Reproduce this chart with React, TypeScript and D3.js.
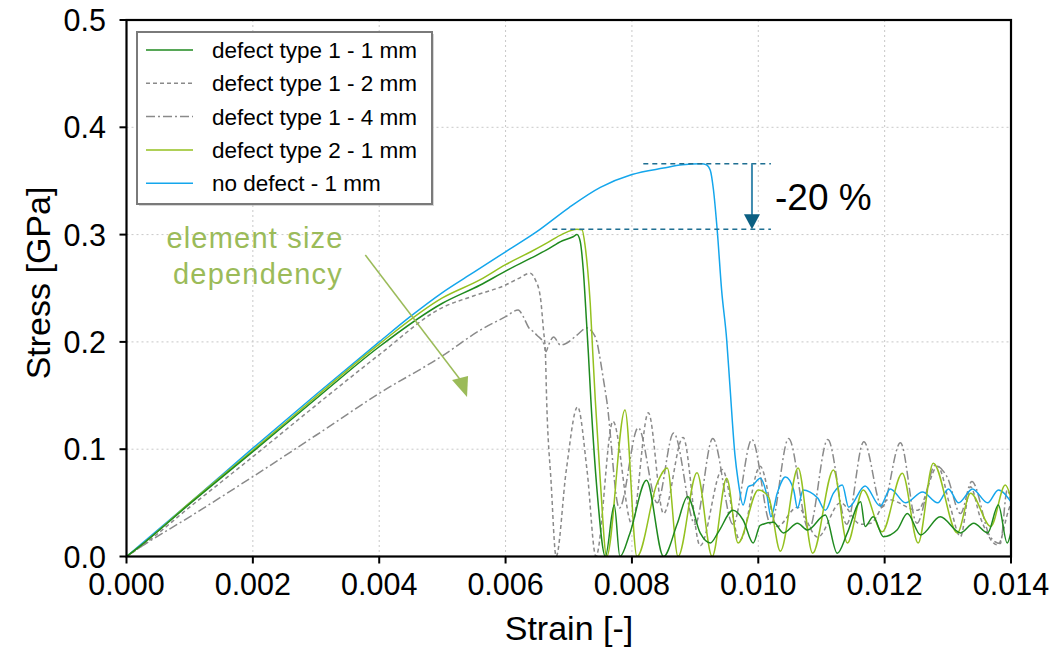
import * as d3 from 'd3';

type Pt = [number, number];

// axis ticks
const xTicks = [0, 0.002, 0.004, 0.006, 0.008, 0.01, 0.012, 0.014];
const yTicks = [0, 0.1, 0.2, 0.3, 0.4, 0.5];

// strain [-], stress [GPa]
const type1_1mm: Pt[] = [
  [0, 0], [0.0002, 0.009], [0.001, 0.049], [0.002, 0.0977], [0.003, 0.147], [0.004, 0.1955],
  [0.005, 0.236], [0.0056, 0.253], [0.006, 0.266], [0.0064, 0.278], [0.00665, 0.2857],
  [0.0069, 0.2943], [0.00707, 0.298], [0.00713, 0.3], [0.00718, 0.294], [0.00723, 0.267],
  [0.00728, 0.22], [0.00731, 0.19], [0.00735, 0.146], [0.00745, 0.06], [0.00758, 0],
  [0.00772, 0.048], [0.00781, 0], [0.00797, 0.022], [0.00823, 0.071], [0.0085, 0],
  [0.00872, 0.031], [0.00888, 0.056], [0.00908, 0.022], [0.00924, 0.0126], [0.00937, 0.023],
  [0.0096, 0.043], [0.00976, 0.034], [0.00992, 0.0126], [0.01003, 0.029], [0.01024, 0.032],
  [0.0104, 0.022], [0.01062, 0.031], [0.01078, 0.0247], [0.01106, 0.0387], [0.01125, 0.003],
  [0.01141, 0.022], [0.01162, 0.051], [0.01169, 0.028], [0.01182, 0.037], [0.01198, 0.0185],
  [0.0122, 0.025], [0.01236, 0.04], [0.01257, 0.02], [0.01288, 0.037], [0.0132, 0.022],
  [0.01341, 0.031], [0.01363, 0.022], [0.0138, 0.048], [0.01394, 0.0126], [0.014, 0.023],
];

const type1_2mm: Pt[] = [
  [0, 0], [0.0002, 0.008], [0.001, 0.046], [0.002, 0.093], [0.003, 0.141], [0.004, 0.188],
  [0.005, 0.232], [0.0055, 0.243], [0.006, 0.253], [0.0062, 0.259], [0.00639, 0.264],
  [0.00647, 0.258], [0.00655, 0.242], [0.0066, 0.211], [0.00663, 0.19], [0.00665, 0.146],
  [0.00672, 0.07], [0.0068, 0], [0.00696, 0.08], [0.00714, 0.1396], [0.00729, 0.08],
  [0.00743, 0], [0.0077, 0.126], [0.008, 0.03], [0.00826, 0.134], [0.0085, 0.04],
  [0.00881, 0.111], [0.00908, 0.01], [0.00943, 0.081], [0.00971, 0.015], [0.01003, 0.084],
  [0.0103, 0.028], [0.01062, 0.046], [0.01094, 0.018], [0.0113, 0.05], [0.01162, 0.03],
  [0.01178, 0.031], [0.01206, 0.053], [0.01252, 0.043], [0.01284, 0.084], [0.01304, 0.046],
  [0.0132, 0.0185], [0.01336, 0.065], [0.01351, 0.037], [0.01379, 0.0107], [0.01396, 0.043],
  [0.014, 0.05],
];

const type1_4mm: Pt[] = [
  [0, 0], [0.0002, 0.008], [0.001, 0.037], [0.002, 0.0744], [0.003, 0.113], [0.004, 0.152],
  [0.005, 0.187], [0.0056, 0.211], [0.006, 0.2235], [0.0062, 0.2297], [0.00628, 0.2235],
  [0.00637, 0.213], [0.00644, 0.2095], [0.0065, 0.206], [0.0066, 0.199], [0.00664, 0.191],
  [0.00668, 0.197], [0.00676, 0.2045], [0.00687, 0.197], [0.00697, 0.199], [0.00713, 0.2064],
  [0.00729, 0.213], [0.00737, 0.2095], [0.00745, 0.199], [0.0075, 0.183], [0.00755, 0.1645],
  [0.0076, 0.146], [0.0078, 0.045], [0.0081, 0.12], [0.0084, 0.05], [0.00866, 0.115],
  [0.009, 0.03], [0.00928, 0.11], [0.0096, 0.03], [0.0099, 0.109], [0.0102, 0.03],
  [0.01048, 0.11], [0.0108, 0.025], [0.0111, 0.109], [0.0114, 0.03], [0.01167, 0.107],
  [0.01196, 0.046], [0.01225, 0.106], [0.01251, 0.031], [0.0128, 0.085], [0.01299, 0.074],
  [0.0132, 0.04], [0.01338, 0.07], [0.01367, 0.0185], [0.01383, 0.012], [0.01394, 0.062],
  [0.014, 0.05],
];

const type2_1mm: Pt[] = [
  [0, 0], [0.0002, 0.009], [0.001, 0.05], [0.002, 0.099], [0.003, 0.149], [0.004, 0.198],
  [0.005, 0.241], [0.0056, 0.258], [0.006, 0.272], [0.0064, 0.284], [0.00665, 0.292],
  [0.0069, 0.3005], [0.00713, 0.305], [0.00721, 0.3045], [0.00726, 0.289], [0.0073, 0.267],
  [0.00734, 0.236], [0.00738, 0.19], [0.00742, 0.146], [0.0075, 0.07], [0.0076, 0],
  [0.00789, 0.1366], [0.00808, 0], [0.0084, 0.0685], [0.00856, 0.0825], [0.00873, 0],
  [0.00903, 0.078], [0.00927, 0], [0.0095, 0.073], [0.00968, 0.0126], [0.01, 0.062],
  [0.01016, 0.056], [0.01035, 0.005], [0.01063, 0.0825], [0.01086, 0.003], [0.01119, 0.0806],
  [0.01141, 0.0126], [0.01166, 0.062], [0.01196, 0.023], [0.01228, 0.0775], [0.01253, 0.0126],
  [0.01277, 0.087], [0.01315, 0.022], [0.01336, 0.059], [0.01368, 0.028], [0.01391, 0.0666],
  [0.014, 0.0545],
];

const noDefect_1mm: Pt[] = [
  [0, 0], [0.0002, 0.01], [0.001, 0.05], [0.002, 0.101], [0.003, 0.151], [0.004, 0.2],
  [0.0045, 0.224], [0.005, 0.246], [0.0055, 0.265], [0.006, 0.284], [0.0065, 0.303], [0.007, 0.325],
  [0.0075, 0.344], [0.008, 0.356], [0.0085, 0.362], [0.0088, 0.365], [0.0091, 0.366],
  [0.00918, 0.365], [0.00924, 0.36], [0.00929, 0.342], [0.00935, 0.304], [0.00942, 0.248],
  [0.0095, 0.202], [0.00955, 0.16], [0.00963, 0.095], [0.00968, 0.071], [0.00976, 0.048],
  [0.00984, 0.065], [0.00992, 0.067], [0.01003, 0.073], [0.01014, 0.056], [0.0102, 0.037],
  [0.0103, 0.059], [0.01043, 0.074], [0.01056, 0.062], [0.01062, 0.045], [0.01071, 0.062],
  [0.01082, 0.06], [0.01094, 0.0545], [0.01106, 0.043], [0.01119, 0.059], [0.01133, 0.0666],
  [0.01143, 0.046], [0.01169, 0.0657], [0.01193, 0.047], [0.01209, 0.063], [0.01233, 0.05],
  [0.0126, 0.06], [0.01284, 0.05], [0.01301, 0.063], [0.01317, 0.05], [0.01339, 0.063],
  [0.01363, 0.05], [0.0138, 0.062], [0.014, 0.051],
];

const seriesLabels = [
  'defect type 1 - 1 mm',
  'defect type 1 - 2 mm',
  'defect type 1 - 4 mm',
  'defect type 2 - 1 mm',
  'no defect - 1 mm',
];
const seriesData = [type1_1mm, type1_2mm, type1_4mm, type2_1mm, noDefect_1mm];
const seriesColors = ['#1f8a1f', '#8a8a8a', '#8a8a8a', '#94c11f', '#14a6ec'];
const seriesDash = ['none', '4 3', '9 3 2 3', 'none', 'none'];

// peak stresses for the -20 % note
const peakNoDefect = 0.366;
const peakDefect = 0.305;

const FONT = 'Liberation Sans, Arial, Helvetica, sans-serif';

export default function App() {
  const W = 1059;
  const H = 650;
  const x = d3.scaleLinear().domain([0, 0.014]).range([126.5, 1011]);
  const y = d3.scaleLinear().domain([0, 0.5]).range([556.5, 20]);
  const line = d3
    .line<Pt>()
    .x((d) => x(d[0]))
    .y((d) => y(d[1]))
    .curve(d3.curveMonotoneX);

  const [x0, x1] = x.range();
  const [y0, y1] = y.range();

  // draw order: grays first, then greens, blue
  const order = [2, 1, 4, 3, 0];

  const arrowX = x(0.0099);
  const annGreen = '#9bbb59';

  return (
    <svg
      width={W}
      height={H}
      style={{ position: 'absolute', left: 0, top: 0, background: '#fff' }}
      fontFamily={FONT}
    >
      <defs>
        <clipPath id="plot">
          <rect x={x0} y={y1} width={x1 - x0} height={y0 - y1} />
        </clipPath>
      </defs>

      {/* grid */}
      {xTicks.slice(1, -1).map((t) => (
        <line key={'gx' + t} x1={x(t)} x2={x(t)} y1={y1} y2={y0} stroke="#c8c8c8" strokeWidth={1} strokeDasharray="2 3" />
      ))}
      {yTicks.slice(1, -1).map((t) => (
        <line key={'gy' + t} x1={x0} x2={x1} y1={y(t)} y2={y(t)} stroke="#c8c8c8" strokeWidth={1} strokeDasharray="2 3" />
      ))}

      {/* series */}
      <g clipPath="url(#plot)">
        {order.map((i) => (
          <path
            key={seriesLabels[i]}
            d={line(seriesData[i]) || ''}
            fill="none"
            stroke={seriesColors[i]}
            strokeWidth={1.5}
            strokeDasharray={seriesDash[i]}
            strokeLinejoin="round"
          />
        ))}
      </g>

      {/* frame */}
      <rect x={x0} y={y1} width={x1 - x0} height={y0 - y1} fill="none" stroke="#000" strokeWidth={2.2} />

      {/* x ticks */}
      {xTicks.map((t) => (
        <g key={'xt' + t}>
          <line x1={x(t)} x2={x(t)} y1={y0} y2={y0 + 7} stroke="#000" strokeWidth={2} />
          <text x={x(t)} y={595} textAnchor="middle" fontSize={30.5} fill="#000">
            {t.toFixed(3)}
          </text>
        </g>
      ))}
      {/* y ticks */}
      {yTicks.map((t) => (
        <g key={'yt' + t}>
          <line x1={x0 - 7} x2={x0} y1={y(t)} y2={y(t)} stroke="#000" strokeWidth={2} />
          <text x={106} y={y(t) + 11} textAnchor="end" fontSize={30.5} fill="#000">
            {t.toFixed(1)}
          </text>
        </g>
      ))}

      <text x={569} y={640} textAnchor="middle" fontSize={34} fill="#000">
        Strain [-]
      </text>
      <text transform="translate(50,283) rotate(-90)" textAnchor="middle" fontSize={34} fill="#000">
        Stress [GPa]
      </text>

      {/* legend */}
      <rect x={139} y={34} width={295} height={172} fill="#bbb" opacity={0.6} />
      <rect x={137} y={32} width={295} height={172} fill="#fff" stroke="#7a7a7a" strokeWidth={2} />
      {seriesLabels.map((lab, i) => {
        const ly = 50 + i * 33.3;
        return (
          <g key={'lg' + lab}>
            <line x1={146} x2={193} y1={ly} y2={ly} stroke={seriesColors[i]} strokeWidth={1.5} strokeDasharray={seriesDash[i]} />
            <text x={212} y={ly + 8} fontSize={22.5} fill="#000">
              {lab}
            </text>
          </g>
        );
      })}

      {/* -20 % note */}
      <line x1={x(0.00818)} x2={x(0.0102)} y1={y(peakNoDefect)} y2={y(peakNoDefect)} stroke="#1f6f92" strokeWidth={1.5} strokeDasharray="5 4" />
      <line x1={x(0.00674)} x2={x(0.0102)} y1={y(peakDefect)} y2={y(peakDefect)} stroke="#1f6f92" strokeWidth={1.5} strokeDasharray="5 4" />
      <line x1={arrowX} x2={arrowX} y1={y(peakNoDefect)} y2={y(peakDefect) - 12} stroke="#3f8bb0" strokeWidth={2} />
      <path
        d={`M${arrowX - 8},${y(peakDefect) - 15} L${arrowX + 8},${y(peakDefect) - 15} L${arrowX},${y(peakDefect)} Z`}
        fill="#0b5f82"
      />
      <text x={775} y={210} fontSize={37} fill="#000">
        -20 %
      </text>

      {/* element size note */}
      <text x={255} y={248} textAnchor="middle" fontSize={29} fill={annGreen} letterSpacing={1.2}>
        element size
      </text>
      <text x={258} y={284} textAnchor="middle" fontSize={29} fill={annGreen} letterSpacing={1.2}>
        dependency
      </text>
      <line x1={x(0.00378)} y1={y(0.281)} x2={x(0.00528)} y2={y(0.165)} stroke={annGreen} strokeWidth={1.5} />
      <path
        d={`M${x(0.00539)},${y(0.1486)} L${x(0.00539) - 15},${y(0.1486) - 17} L${x(0.00539) + 1},${y(0.1486) - 21} Z`}
        fill={annGreen}
      />
    </svg>
  );
}
